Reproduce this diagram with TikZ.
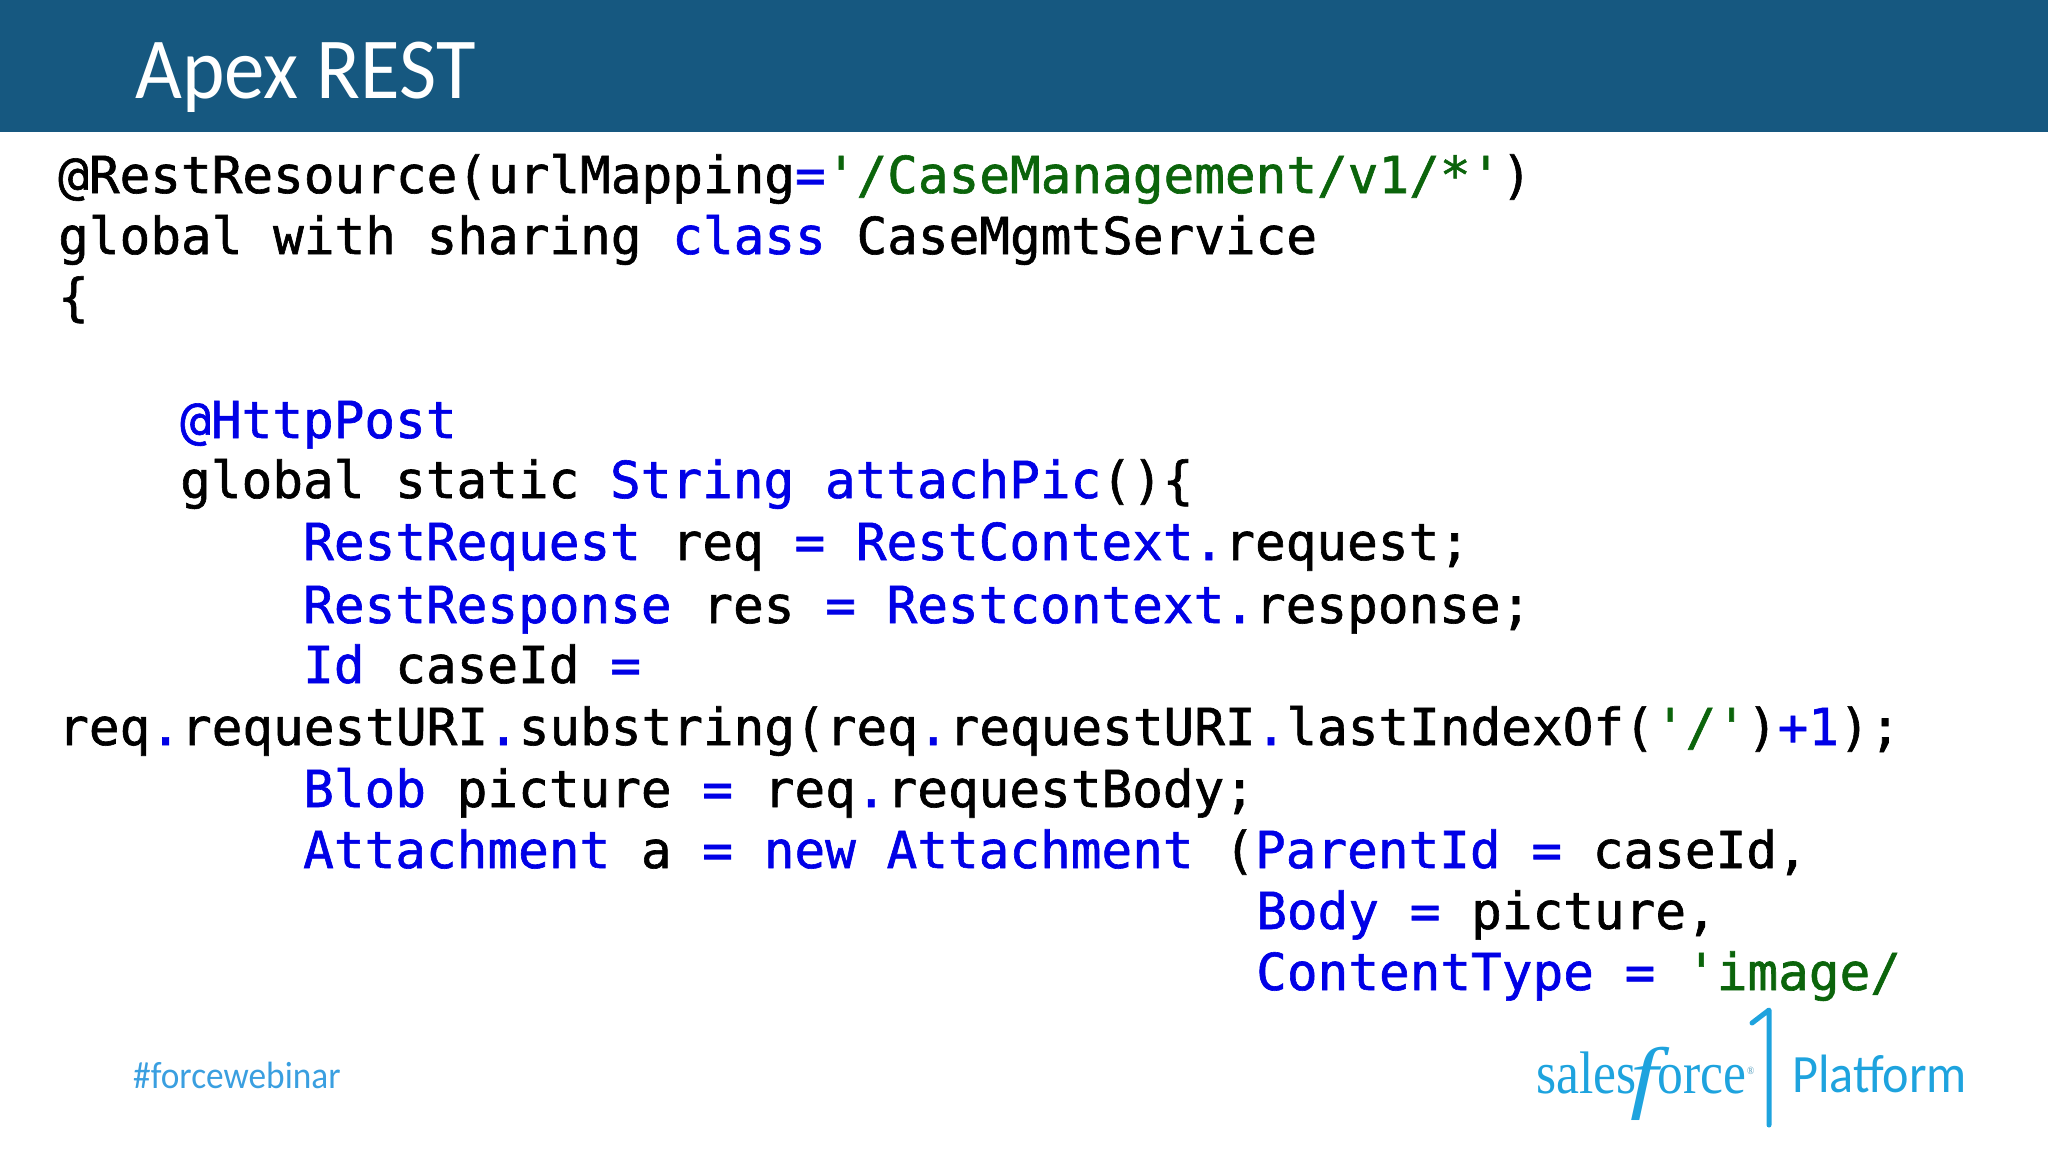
\documentclass[tikz,border=0pt]{standalone}
\usepackage{fontspec}
\setmainfont{Carlito}
\newfontfamily\slimfont[FakeStretch=0.93]{Carlito}
\newfontfamily\codefont[FakeBold=1.2]{DejaVu Sans Mono}
\newfontfamily\logofont[FakeStretch=0.86]{Liberation Serif}
\newfontfamily\swashfont[FakeStretch=1.25]{Liberation Serif Italic}
\definecolor{bandblue}{HTML}{165880}
\definecolor{kwblue}{HTML}{0000E6}
\definecolor{strgreen}{HTML}{0B640B}
\definecolor{skyblue}{HTML}{1EA3DE}
\definecolor{tagblue}{HTML}{3A9FE0}
\newcommand{\kw}[1]{\textcolor{kwblue}{#1}}
\newcommand{\lit}[1]{\textcolor{strgreen}{#1}}
\tikzset{
  codeline/.style={anchor=base west, inner sep=0pt, font=\codefont\fontsize{51}{60}\selectfont},
  logotext/.style={anchor=base west, inner sep=0pt, text=skyblue}
}
\begin{document}
\begin{tikzpicture}[x=1pt,y=-1pt]
  \useasboundingbox (0,0) rectangle (2048,1152);
  \fill[bandblue] (0,0) rectangle (2048,132);
  \node (title) [anchor=base west, inner sep=0pt, text=white, font=\slimfont\fontsize{87}{90}\selectfont] at (135,98) {Apex REST};

  % code, one node per line
  \node (line1) [codeline] at (58,193) {@RestResource(urlMapping\kw{=}\lit{'/CaseManagement/v1/*'})};
  \node (line2) [codeline] at (58,254) {global with sharing \kw{class} CaseMgmtService};
  \node (line3) [codeline] at (58,315) {\{};
  \node (line5) [codeline] at (180,438) {\kw{@HttpPost}};
  \node (line6) [codeline] at (180,498) {global static \kw{String} \kw{attachPic}()\{};
  \node (line7) [codeline] at (303,560) {\kw{RestRequest} req \kw{=} \kw{RestContext.}request;};
  \node (line8) [codeline] at (303,623) {\kw{RestResponse} res \kw{=} \kw{Restcontext.}response;};
  \node (line9) [codeline] at (303,683) {\kw{Id} caseId \kw{=}};
  \node (line10) [codeline] at (58,745) {req\kw{.}requestURI\kw{.}substring(req\kw{.}requestURI\kw{.}lastIndexOf(\lit{'/'})\kw{+1});};
  \node (line11) [codeline] at (303,807) {\kw{Blob} picture \kw{=} req\kw{.}requestBody;};
  \node (line12) [codeline] at (303,868) {\kw{Attachment} a \kw{=} \kw{new} \kw{Attachment} (\kw{ParentId} \kw{=} caseId,};
  \node (line13) [codeline] at (1256,929) {\kw{Body} \kw{=} picture,};
  \node (line14) [codeline] at (1256,990) {\kw{ContentType} \kw{=} \lit{'image/}};

  % footer
  \node (tag) [anchor=base west, inner sep=0pt, text=tagblue, font=\slimfont\fontsize{38}{40}\selectfont] at (133,1088) {\#forcewebinar};
  \node (sales) [logotext, font=\logofont\fontsize{60}{62}\selectfont] at (1536,1093) {sales};
  \node (swash) [logotext, font=\swashfont\fontsize{80}{82}\selectfont] at (1630,1103) {f};
  \node (orce) [logotext, font=\logofont\fontsize{60}{62}\selectfont] at (1657,1093) {orce};
  \node (reg) [anchor=base west, inner sep=0pt, text=skyblue!60!gray, font=\logofont\fontsize{11}{12}\selectfont] at (1747,1074) {®};
  \draw[skyblue, line width=5pt, line cap=round, line join=round] (1752,1023) -- (1769,1010) -- (1769,1125);
  \node (platform) [logotext, font=\slimfont\fontsize{54}{56}\selectfont] at (1792,1092) {Platform};
\end{tikzpicture}
\end{document}
